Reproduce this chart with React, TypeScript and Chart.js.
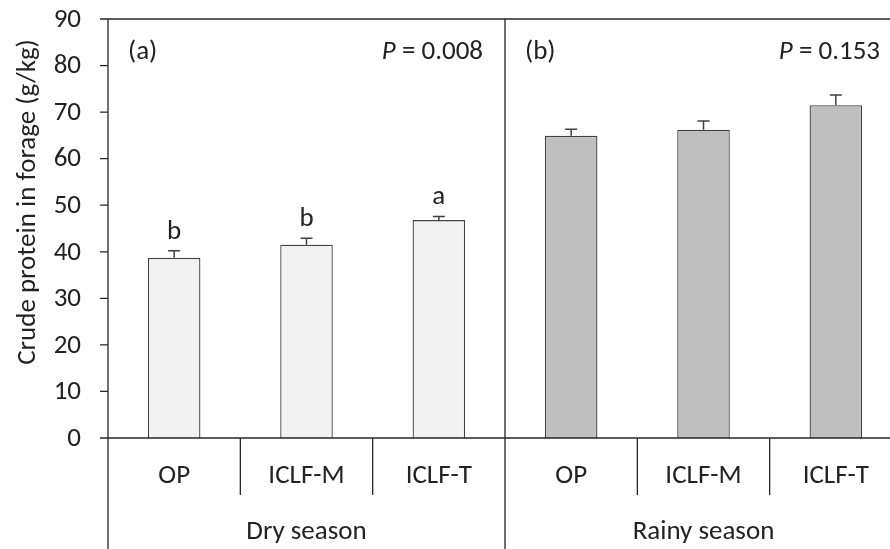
import React, { useEffect, useRef } from "react";
import { Chart, registerables } from "chart.js";

Chart.register(...registerables);

const categories = ["OP", "ICLF-M", "ICLF-T", "OP", "ICLF-M", "ICLF-T"];
const groups = ["Dry season", "Rainy season"];
const means = [38.7, 41.5, 46.8, 64.9, 66.2, 71.5];
const errors = [1.5, 1.4, 0.8, 1.4, 1.9, 2.2];
const letters = ["b", "b", "a", "", "", ""];
const panelLabels = ["(a)", "(b)"];
const pValues = ["0.008", "0.153"];
const yTicks = [0, 10, 20, 30, 40, 50, 60, 70, 80, 90];
const yTitle = "Crude protein in forage (g/kg)";

const FONT = "Carlito, Lato, sans-serif";
const FS = 27;
const TEXT = "#222222";
const LINE = "#262626";

const overlay = {
  id: "overlay",
  afterDatasetsDraw(chart: any) {
    const ctx = chart.ctx;
    const x = chart.scales.x;
    const y = chart.scales.y;
    const area = chart.chartArea;
    const left = area.left;
    const top = y.getPixelForValue(90);
    const zero = y.getPixelForValue(0);
    const bottom = chart.height;
    const step = x.getPixelForValue(1) - x.getPixelForValue(0);
    const catBottom = zero + 57;
    ctx.save();

    // error bars
    ctx.strokeStyle = "#404040";
    ctx.lineWidth = 1.5;
    means.forEach((m, i) => {
      const cx = x.getPixelForValue(i);
      const y1 = y.getPixelForValue(m);
      const y2 = y.getPixelForValue(m + errors[i]);
      ctx.beginPath();
      ctx.moveTo(cx, y1);
      ctx.lineTo(cx, y2);
      ctx.moveTo(cx - 6, y2);
      ctx.lineTo(cx + 6, y2);
      ctx.stroke();
    });

    ctx.strokeStyle = LINE;
    ctx.lineWidth = 1.3;
    ctx.beginPath();
    ctx.moveTo(left, top);
    ctx.lineTo(left, bottom);
    ctx.moveTo(left - 8, top);
    ctx.lineTo(chart.width, top);
    ctx.moveTo(left - 8, zero);
    ctx.lineTo(chart.width, zero);
    yTicks.forEach((t) => {
      const py = y.getPixelForValue(t);
      ctx.moveTo(left - 8, py);
      ctx.lineTo(left, py);
    });
    for (let i = 0; i < categories.length - 1; i++) {
      const sx = x.getPixelForValue(i) + step / 2;
      if (i === 2) {
        ctx.moveTo(sx, top);
        ctx.lineTo(sx, bottom);
      } else {
        ctx.moveTo(sx, zero);
        ctx.lineTo(sx, catBottom);
      }
    }
    ctx.stroke();

    ctx.fillStyle = TEXT;
    ctx.font = `${FS}px ${FONT}`;
    ctx.textAlign = "right";
    ctx.textBaseline = "middle";
    yTicks.forEach((t) => {
      ctx.fillText(String(t), left - 27, y.getPixelForValue(t) + 1);
    });
    ctx.textAlign = "center";
    categories.forEach((c, i) => {
      ctx.fillText(c, x.getPixelForValue(i), zero + 38);
    });
    groups.forEach((g, gi) => {
      const cx = x.getPixelForValue(gi * 3 + 1);
      ctx.fillText(g, cx, zero + 94);
    });
    ctx.textBaseline = "alphabetic";
    letters.forEach((l, i) => {
      if (!l) return;
      const py = y.getPixelForValue(means[i] + errors[i]);
      ctx.fillText(l, x.getPixelForValue(i), py - 12);
    });
    ctx.textBaseline = "middle";
    panelLabels.forEach((p, gi) => {
      const gx0 = x.getPixelForValue(gi * 3) - step / 2;
      ctx.textAlign = "left";
      ctx.font = `${FS}px ${FONT}`;
      ctx.fillText(p, gx0 + 20, top + 33);
      const rx = x.getPixelForValue(gi * 3 + 2) + step / 2 - 22;
      ctx.textAlign = "right";
      const rest = " = " + pValues[gi];
      ctx.fillText(rest, rx, top + 33);
      const w = ctx.measureText(rest).width;
      ctx.font = `italic ${FS}px ${FONT}`;
      ctx.fillText("P", rx - w, top + 33);
    });
    ctx.font = `${FS}px ${FONT}`;
    ctx.translate(28, 202);
    ctx.rotate(-Math.PI / 2);
    ctx.textAlign = "center";
    ctx.textBaseline = "middle";
    ctx.fillText(yTitle, 0, 0);
    ctx.restore();
  },
};

export default function App() {
  const ref = useRef<HTMLCanvasElement>(null);
  useEffect(() => {
    if (!ref.current) return;
    const chart = new Chart(ref.current, {
      type: "bar",
      data: {
        labels: categories,
        datasets: [
          {
            data: means,
            backgroundColor: ["#f2f2f2", "#f2f2f2", "#f2f2f2", "#bfbfbf", "#bfbfbf", "#bfbfbf"],
            borderColor: "#404040",
            borderWidth: 1.3,
            barPercentage: 0.397,
            categoryPercentage: 1,
          },
        ],
      },
      options: {
        responsive: false,
        animation: false,
        layout: { padding: { left: 108, top: 19, right: 18, bottom: 111 } },
        plugins: { legend: { display: false }, tooltip: { enabled: false } },
        scales: {
          x: { display: false },
          y: { display: false, min: 0, max: 90 },
        },
      },
      plugins: [overlay],
    });
    return () => chart.destroy();
  }, []);
  return (
    <div style={{ position: "fixed", left: 0, top: 0, width: 890, height: 549, overflow: "hidden", background: "#fff" }}>
      <canvas ref={ref} width={920} height={549} style={{ display: "block", width: 920, height: 549 }} />
    </div>
  );
}
